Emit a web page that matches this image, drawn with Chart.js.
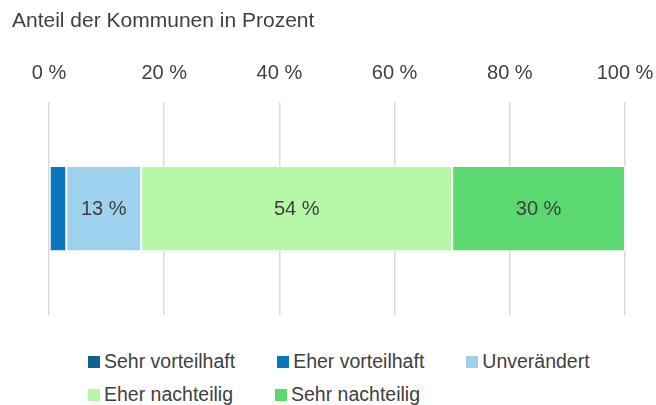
<!DOCTYPE html>
<html lang="de">
<head>
  <meta charset="UTF-8" />
  <title>Anteil der Kommunen in Prozent</title>
  <script src="https://cdn.jsdelivr.net/npm/chart.js"></script>
  <style>
    body {
      margin: 0;
      background: #fff;
      font-family: 'Liberation Sans', Arial, sans-serif;
      overflow: hidden;
    }
    #wrap {
      position: relative;
      width: 656px;
      height: 405px;
    }
    #legend {
      position: absolute;
      left: 88px;
      top: 345px;
      width: 560px;
      display: flex;
      flex-wrap: wrap;
      font-size: 19.5px;
      line-height: 33px;
      color: #404040;
    }
    .item {
      display: flex;
      align-items: center;
      margin-right: 42px;
      white-space: nowrap;
    }
    .box {
      width: 12px;
      height: 12px;
      margin-right: 4px;
    }
  </style>
</head>
<body>
  <div id="wrap">
    <canvas id="chart" width="656" height="340"></canvas>
    <div id="legend"></div>
  </div>

  <script>
    const categories = [''];
    const seriesNames = ['Sehr vorteilhaft', 'Eher vorteilhaft', 'Unverändert', 'Eher nachteilig', 'Sehr nachteilig'];
    const seriesValues = [[0], [3], [13], [54], [30]];
    const seriesColors = ['#135f8e', '#0a77bc', '#9dd1ee', '#b6f7a8', '#5bd971'];
    const tickValues = [0, 20, 40, 60, 80, 100];

    const textColor = '#404040';
    const fontFamily = '"Liberation Sans", Arial, sans-serif';

    // Werte mittig in die Balken schreiben (nur ab 10 %)
    const valueLabels = {
      id: 'valueLabels',
      afterDatasetsDraw(chart) {
        const ctx = chart.ctx;
        ctx.save();
        ctx.font = '20px ' + fontFamily;
        ctx.fillStyle = textColor;
        ctx.textAlign = 'center';
        ctx.textBaseline = 'middle';
        chart.data.datasets.forEach((ds, i) => {
          chart.getDatasetMeta(i).data.forEach((bar, j) => {
            const v = ds.data[j];
            if (v < 10) return;
            const p = bar.getProps(['x', 'y', 'base'], true);
            ctx.fillText(v + ' %', (p.x + p.base) / 2, p.y + 1);
          });
        });
        ctx.restore();
      }
    };

    new Chart(document.getElementById('chart'), {
      type: 'bar',
      data: {
        labels: categories,
        datasets: seriesNames.map((name, i) => ({
          label: name,
          data: seriesValues[i],
          backgroundColor: seriesColors[i],
          borderColor: '#ffffff',
          borderWidth: 1,
          borderSkipped: false,
          barPercentage: 0.4,
          categoryPercentage: 1
        }))
      },
      options: {
        indexAxis: 'y',
        responsive: false,
        animation: false,
        layout: { padding: { left: 12, right: 31, top: 0, bottom: 25 } },
        plugins: {
          legend: { display: false },
          tooltip: { enabled: false },
          title: {
            display: true,
            text: 'Anteil der Kommunen in Prozent',
            align: 'start',
            color: textColor,
            font: { family: fontFamily, size: 21, weight: 'normal' },
            padding: { top: 9, bottom: 10 }
          }
        },
        scales: {
          x: {
            position: 'top',
            stacked: true,
            min: 0,
            max: 100,
            afterBuildTicks: (scale) => {
              scale.ticks = tickValues.map(v => ({ value: v }));
            },
            afterFit: (scale) => {
              scale.paddingLeft = 0;
              scale.paddingRight = 0;
            },
            ticks: {
              color: textColor,
              font: { family: fontFamily, size: 20 },
              padding: 17,
              callback: (v) => v + ' %'
            },
            grid: { color: '#d9d9d9', lineWidth: 1.5, drawTicks: false },
            border: { display: false }
          },
          y: {
            stacked: true,
            ticks: { display: false },
            grid: { display: false },
            border: { display: false },
            afterFit: (scale) => { scale.width = 37; }
          }
        }
      },
      plugins: [valueLabels]
    });

    // Legende als HTML, damit die Zeilen wie im Original fließen
    const legendEl = document.getElementById('legend');
    seriesNames.forEach((name, i) => {
      const item = document.createElement('div');
      item.className = 'item';
      item.innerHTML = `<span class="box" style="background:${seriesColors[i]}"></span>${name}`;
      legendEl.appendChild(item);
    });
  </script>
</body>
</html>
